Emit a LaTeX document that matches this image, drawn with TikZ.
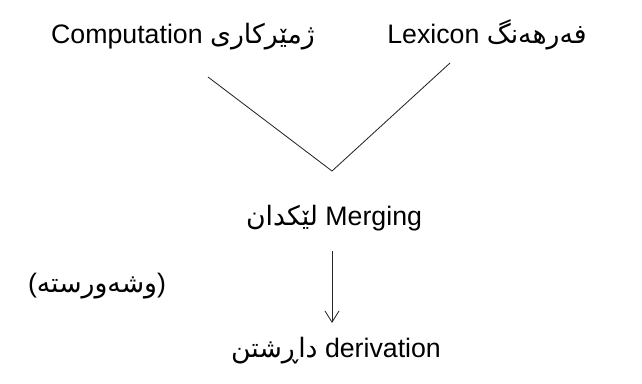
\documentclass[tikz,border=0pt]{standalone}
\usepackage{fontspec}
\setmainfont{Liberation Sans}
\newfontfamily\arabicfont[Script=Arabic,Scale=1.0]{DejaVu Sans}
\TeXXeTstate=1
\usetikzlibrary{arrows.meta,positioning}
\tikzset{
    term/.style={anchor=base, inner sep=0pt, font=\fontsize{19}{23}\selectfont},
    line/.style={draw, black!85, line width=0.6pt},
    arr/.style={draw, black!85, line width=0.6pt, -{Straight Barb[length=8pt, width=10pt]}}
}
\begin{document}
\begin{tikzpicture}[x=0.025cm, y=-0.025cm]
    \useasboundingbox (0,0) rectangle (642,383);
    % Nodes
    \node[term] (comp) at (183,43) {Computation {\arabicfont\beginR ژمێرکاری\endR}};
    \node[term] (lex) at (487,43) {Lexicon {\arabicfont\beginR فەرهەنگ\endR}};
    \node[term] (merge) at (334,225) {{\arabicfont\beginR لێکدان\endR} Merging};
    \node[term] (phrase) at (97,292) {({\arabicfont\beginR وشەورستە\endR})};
    \node[term] (deriv) at (336,357) {{\arabicfont\beginR داڕشتن\endR} derivation};

    % coordinates
    \coordinate (cl) at (208,77);
    \coordinate (cr) at (450,63);
    \coordinate (cv) at (332,171);
    \coordinate (as) at (332,251);
    \coordinate (ae) at (332,323);

    % edges
    \draw[line] (cl) -- (cv) -- (cr);
    \draw[arr] (as) -- (ae);
\end{tikzpicture}
\end{document}
